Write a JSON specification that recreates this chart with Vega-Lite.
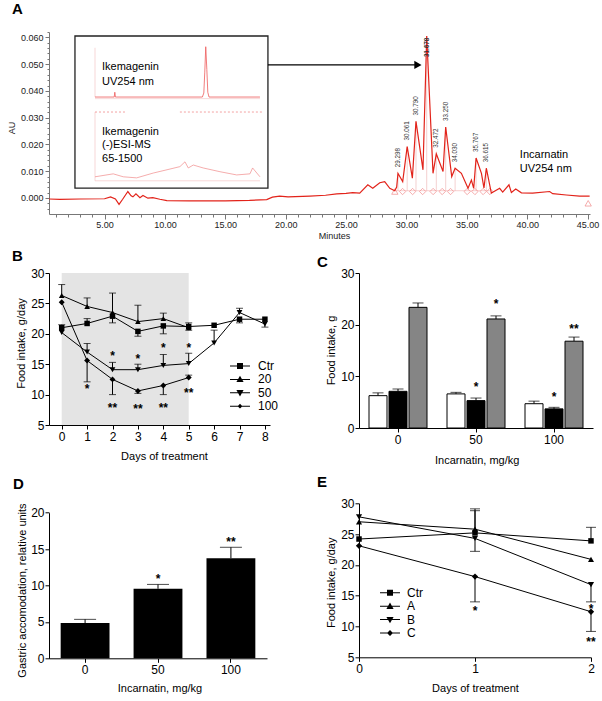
{
"$schema": "https://vega.github.io/schema/vega-lite/v6.json",
"autosize": {"type": "none"},
"padding": {"left": 49, "top": 32, "right": 553, "bottom": 669},
"background": "white",
"config": {
  "font": "Liberation Sans",
  "view": {"stroke": null},
  "axis": {"domainColor": "black", "tickColor": "black", "labelColor": "black", "titleColor": "black", "labelFontSize": 12, "titleFontSize": 11, "titleFontWeight": "normal", "grid": false, "tickSize": 4, "labelPadding": 2, "labelFlush": false, "labelOverlap": false, "labelBound": false, "titleAlign": "center", "titleBaseline": "middle", "domainWidth": 1, "tickWidth": 1},
  "title": {"fontSize": 15, "fontWeight": "bold", "anchor": "start", "frame": "group", "color": "black", "baseline": "alphabetic"},
  "legend": {"labelFontSize": 12, "labelColor": "black", "padding": 0}
},
"datasets": {
  "a_trace": [
    {"t":0.4,"au":-0.0004},{"t":1.3,"au":-0.0005},{"t":3.0,"au":-0.0004},{"t":5.0,"au":-0.0003},{"t":5.5,"au":0.0004},{"t":5.9,"au":-0.0004},{"t":6.2,"au":-0.0024},{"t":6.5,"au":-0.0005},{"t":6.93,"au":0.0024},{"t":7.2,"au":0.0008},{"t":7.35,"au":0.0004},{"t":7.6,"au":0.0015},{"t":7.93,"au":0.0001},{"t":8.18,"au":0.0009},{"t":8.59,"au":-0.0001},{"t":9.0,"au":0.0001},{"t":9.58,"au":-0.0005},{"t":10.16,"au":-0.001},{"t":12,"au":-0.0011},{"t":15,"au":-0.0011},{"t":17,"au":-0.0009},{"t":18.43,"au":-0.0006},{"t":18.9,"au":0.0003},{"t":19.5,"au":0.0007},{"t":20.2,"au":0.0004},{"t":22.0,"au":0.0007},{"t":23.3,"au":0.001},{"t":24.23,"au":0.0015},{"t":25.0,"au":0.0017},{"t":25.55,"au":0.002},{"t":26.13,"au":0.0018},{"t":26.8,"au":0.0049},{"t":27.21,"au":0.0036},{"t":27.79,"au":0.0057},{"t":28.2,"au":0.0061},{"t":28.62,"au":0.0036},{"t":29.03,"au":0.0027},{"t":29.19,"au":0.0041},{"t":29.298,"au":0.0092},{"t":29.69,"au":0.0061},{"t":30.061,"au":0.0192},{"t":30.49,"au":0.0074},{"t":30.79,"au":0.0286},{"t":31.37,"au":0.0105},{"t":31.678,"au":0.0605},{"t":32.2,"au":0.0092},{"t":32.472,"au":0.0165},{"t":33.03,"au":0.0099},{"t":33.25,"au":0.0265},{"t":33.75,"au":0.008},{"t":34.03,"au":0.0111},{"t":34.55,"au":0.0092},{"t":35.1,"au":0.0036},{"t":35.38,"au":0.0067},{"t":35.57,"au":0.0036},{"t":35.767,"au":0.0149},{"t":36.21,"au":0.0092},{"t":36.42,"au":0.0037},{"t":36.615,"au":0.0111},{"t":37.03,"au":0.0018},{"t":37.72,"au":0.0036},{"t":37.97,"au":0.0022},{"t":38.49,"au":0.0049},{"t":38.69,"au":0.002},{"t":39.05,"au":0.0033},{"t":39.52,"au":0.0019},{"t":40.45,"au":0.0018},{"t":41.86,"au":0.0024},{"t":42.11,"au":0.0016},{"t":43.24,"au":0.0011},{"t":44.34,"au":0.0007},{"t":45.17,"au":0.0007}
  ],
  "a_uv": [
    {"t":4.21,"au":0.0377},{"t":5.8,"au":0.0377},{"t":5.85,"au":0.0395},{"t":5.9,"au":0.0377},{"t":13.1,"au":0.0377},{"t":13.22,"au":0.0392},{"t":13.3,"au":0.047},{"t":13.38,"au":0.0565},{"t":13.47,"au":0.048},{"t":13.55,"au":0.0395},{"t":13.65,"au":0.0377},{"t":17.87,"au":0.0377}
  ],
  "a_ms": [
    {"t":4.21,"au":0.0079},{"t":5.72,"au":0.009},{"t":6.55,"au":0.0079},{"t":7.66,"au":0.0075},{"t":9.03,"au":0.0093},{"t":10.42,"au":0.0108},{"t":11.24,"au":0.0117},{"t":11.66,"au":0.0135},{"t":11.93,"au":0.0112},{"t":12.35,"au":0.0123},{"t":13.17,"au":0.0112},{"t":14.56,"au":0.0098},{"t":15.94,"au":0.0086},{"t":17.04,"au":0.009},{"t":17.26,"au":0.0112},{"t":17.87,"au":0.0079}
  ],
  "a_box": [{"t":2.55,"t2":18.53,"au":0.0037,"au2":0.0605}],
  "a_axes": [
    {"t":4.21,"t2":4.21,"au":0.0377,"au2":0.0561},
    {"t":4.21,"t2":17.87,"au":0.0371,"au2":0.0371},
    {"t":4.21,"t2":4.21,"au":0.0064,"au2":0.0321},
    {"t":4.21,"t2":17.87,"au":0.0064,"au2":0.0064}
  ],
  "a_dash": [{"t":4.21,"t2":6.69,"au":0.0321,"au2":0.0321},{"t":11.24,"t2":18.03,"au":0.0321,"au2":0.0321}],
  "a_peaks": [
    {"t":29.298,"au":0.0092,"label":"29.298"},{"t":30.061,"au":0.0192,"label":"30.061"},{"t":30.79,"au":0.0286,"label":"30.790"},{"t":31.678,"au":0.0605,"label":"31.678"},{"t":32.472,"au":0.0165,"label":"32.472"},{"t":33.25,"au":0.0265,"label":"33.250"},{"t":34.03,"au":0.0111,"label":"34.030"},{"t":35.767,"au":0.0149,"label":"35.767"},{"t":36.615,"au":0.0111,"label":"36.615"}
  ],
  "a_base": [{"t":29.04,"t2":36.91,"au":0.0027,"au2":0.0027}],
  "a_marks": [
    {"t":29.04,"au":0.0024,"kind":"t"},{"t":29.68,"au":0.0024,"kind":"d"},{"t":30.51,"au":0.0024,"kind":"d"},{"t":31.34,"au":0.0024,"kind":"d"},{"t":32.21,"au":0.0024,"kind":"d"},{"t":32.96,"au":0.0024,"kind":"d"},{"t":33.65,"au":0.0024,"kind":"d"},{"t":35.03,"au":0.0024,"kind":"d"},{"t":35.67,"au":0.0024,"kind":"d"},{"t":36.35,"au":0.0024,"kind":"d"},{"t":36.91,"au":0.0024,"kind":"d"},{"t":45.05,"au":-0.002,"kind":"t"}
  ],
  "a_arrow": [{"t":18.53,"t2":30.7,"au":0.0497,"au2":0.0497}],
  "a_head": [{"t":30.95,"au":0.0497}],
  "a_text": [
    {"t":4.79,"au":0.0489,"txt":"Ikemagenin"},{"t":4.79,"au":0.0433,"txt":"UV254 nm"},{"t":4.79,"au":0.0246,"txt":"Ikemagenin"},{"t":4.79,"au":0.0196,"txt":"(-)ESI-MS"},{"t":4.79,"au":0.0147,"txt":"65-1500"},{"t":39.39,"au":0.0161,"txt":"Incarnatin"},{"t":39.39,"au":0.011,"txt":"UV254 nm"}
  ],
  "b": [
    {"day":0,"series":"Ctr","v":21.0,"e":21.5},{"day":1,"series":"Ctr","v":21.7,"e":22.5},{"day":2,"series":"Ctr","v":22.9,"e":21.8},{"day":3,"series":"Ctr","v":20.4,"e":19.6},{"day":4,"series":"Ctr","v":21.3,"e":20.0},{"day":5,"series":"Ctr","v":21.2,"e":20.6},{"day":6,"series":"Ctr","v":21.4},{"day":7,"series":"Ctr","v":22.4,"e":21.8},{"day":8,"series":"Ctr","v":22.4},
    {"day":0,"series":"20","v":26.3,"e":28.1},{"day":1,"series":"20","v":24.5,"e":25.9},{"day":2,"series":"20","v":23.5,"e":26.7},{"day":3,"series":"20","v":22.0,"e":24.7},{"day":4,"series":"20","v":22.5,"e":23.4},{"day":5,"series":"20","v":21.0,"e":21.8},
    {"day":0,"series":"50","v":20.2},{"day":1,"series":"50","v":17.0,"e":18.4},{"day":2,"series":"50","v":14.1,"e":15.3},{"day":3,"series":"50","v":14.1,"e":15.0},{"day":4,"series":"50","v":14.8,"e":16.6},{"day":5,"series":"50","v":15.1,"e":16.8},{"day":6,"series":"50","v":18.5,"e":20.6},{"day":7,"series":"50","v":23.5,"e":24.2},{"day":8,"series":"50","v":21.6,"e":21.1},
    {"day":0,"series":"100","v":25.2},{"day":1,"series":"100","v":15.6,"e":12.1},{"day":2,"series":"100","v":12.5,"e":10.0},{"day":3,"series":"100","v":10.6,"e":10.2},{"day":4,"series":"100","v":11.5,"e":10.0},{"day":5,"series":"100","v":12.8,"e":13.2}
  ],
  "b_shade": [{"day":0,"day2":5,"v":5,"v2":30}],
  "b_stars": [
    {"day":1,"v":11.3,"s":"*"},{"day":2,"v":16.7,"s":"*"},{"day":2,"v":8.2,"s":"**"},{"day":3,"v":16.3,"s":"*"},{"day":3,"v":8.0,"s":"**"},{"day":4,"v":18.0,"s":"*"},{"day":4,"v":8.2,"s":"**"},{"day":5,"v":18.1,"s":"*"},{"day":5,"v":10.7,"s":"**"}
  ],
  "c": [
    {"dose":0,"grp":"0-3","v":6.26,"e":6.8},{"dose":0,"grp":"3-6","v":7.1,"e":7.55},{"dose":0,"grp":"0-24","v":23.35,"e":24.2},
    {"dose":50,"grp":"0-3","v":6.6,"e":6.9},{"dose":50,"grp":"3-6","v":5.3,"e":5.8},{"dose":50,"grp":"0-24","v":21.1,"e":21.7},
    {"dose":100,"grp":"0-3","v":4.7,"e":5.2},{"dose":100,"grp":"3-6","v":3.7,"e":4.0},{"dose":100,"grp":"0-24","v":16.8,"e":17.6}
  ],
  "c_stars": [
    {"dose":50,"grp":"3-6","v":8.4,"s":"*"},{"dose":50,"grp":"0-24","v":24.5,"s":"*"},{"dose":100,"grp":"3-6","v":6.45,"s":"*"},{"dose":100,"grp":"0-24","v":19.7,"s":"**"}
  ],
  "d": [{"dose":0,"v":4.85,"e":5.35},{"dose":50,"v":9.55,"e":10.15},{"dose":100,"v":13.75,"e":15.25}],
  "d_stars": [{"dose":50,"v":11.2,"s":"*"},{"dose":100,"v":16.3,"s":"**"}],
  "e": [
    {"day":0,"series":"Ctr","v":24.2},{"day":1,"series":"Ctr","v":25.2,"e":28.8},{"day":2,"series":"Ctr","v":23.9,"e":26.1},
    {"day":0,"series":"A","v":27.0},{"day":1,"series":"A","v":25.8,"e":29.1},{"day":2,"series":"A","v":20.9},
    {"day":0,"series":"B","v":27.8},{"day":1,"series":"B","v":24.3,"e":22.2},{"day":2,"series":"B","v":16.8,"e":14.0},
    {"day":0,"series":"C","v":23.1},{"day":1,"series":"C","v":18.1,"e":14.0},{"day":2,"series":"C","v":12.4,"e":9.2}
  ],
  "e_stars": [{"day":1,"v":13.0,"s":"*"},{"day":2,"v":13.3,"s":"*"},{"day":2,"v":7.9,"s":"**"}]
},
"spacing": 59,
"bounds": "flush",
"vconcat": [
  {
    "width": 541, "height": 182,
    "title": {"text": "A", "dx": -37, "offset": 11},
    "encoding": {
      "x": {"field": "t", "type": "quantitative", "scale": {"domain": [0.4, 45.2], "nice": false, "zero": false},
        "axis": {"title": "Minutes", "titleX": 285, "titleY": 21.5, "titleFontSize": 9, "labelFontSize": 9, "domainColor": "#777", "tickColor": "#777", "labelColor": "#222", "titleColor": "#222", "labelPadding": 1.5,
          "values": [1,2,3,4,5,6,7,8,9,10,11,12,13,14,15,16,17,18,19,20,21,22,23,24,25,26,27,28,29,30,31,32,33,34,35,36,37,38,39,40,41,42,43,44,45],
          "labelExpr": "datum.value % 5 == 0 ? format(datum.value, '.2f') : ''",
          "tickSize": {"condition": {"test": "datum.value % 5 == 0", "value": 5}, "value": 3}}},
      "y": {"field": "au", "type": "quantitative", "scale": {"domain": [-0.006, 0.062], "nice": false, "zero": false},
        "axis": {"title": "AU", "titleX": -37.3, "titleY": 95.5, "titleFontSize": 9, "labelFontSize": 9, "domainColor": "#777", "tickColor": "#777", "labelColor": "#222", "titleColor": "#222", "labelPadding": 2,
          "values": [-0.004,-0.002,0,0.002,0.004,0.006,0.008,0.01,0.012,0.014,0.016,0.018,0.02,0.022,0.024,0.026,0.028,0.03,0.032,0.034,0.036,0.038,0.04,0.042,0.044,0.046,0.048,0.05,0.052,0.054,0.056,0.058,0.06,0.062],
          "labelExpr": "abs(round(datum.value*1000)) % 10 == 0 ? format(datum.value, '.3f') : ''",
          "tickSize": {"condition": {"test": "abs(round(datum.value*1000)) % 10 == 0", "value": 4}, "value": 2}}}
    },
    "layer": [
      {"data": {"name": "a_box"}, "mark": {"type": "rect", "fill": "white", "stroke": "#222", "strokeWidth": 1.3}, "encoding": {"x2": {"field": "t2"}, "y2": {"field": "au2"}}},
      {"data": {"name": "a_axes"}, "mark": {"type": "rule", "color": "#f2bcbc", "strokeWidth": 0.6}, "encoding": {"x2": {"field": "t2"}, "y2": {"field": "au2"}}},
      {"data": {"name": "a_dash"}, "mark": {"type": "rule", "color": "#f08a8a", "strokeWidth": 0.8, "strokeDash": [2, 2]}, "encoding": {"x2": {"field": "t2"}, "y2": {"field": "au2"}}},
      {"data": {"name": "a_uv"}, "mark": {"type": "line", "color": "#ee5a5a", "strokeWidth": 0.8}},
      {"data": {"name": "a_ms"}, "mark": {"type": "line", "color": "#f08a8a", "strokeWidth": 0.7}},
      {"data": {"name": "a_base"}, "mark": {"type": "rule", "color": "#f4b0b0", "strokeWidth": 0.6}, "encoding": {"x2": {"field": "t2"}, "y2": {"field": "au2"}}},
      {"data": {"name": "a_peaks"}, "mark": {"type": "rule", "color": "#e8a0a0", "strokeWidth": 0.5}, "encoding": {"y2": {"datum": 0.0027}}},
      {"data": {"name": "a_marks"}, "mark": {"type": "point", "filled": false, "color": "#f08a8a", "strokeWidth": 0.7, "size": 40, "opacity": 1},
        "encoding": {"shape": {"field": "kind", "type": "nominal", "scale": {"domain": ["d", "t"], "range": ["diamond", "triangle-up"]}, "legend": null}}},
      {"data": {"name": "a_trace"}, "mark": {"type": "line", "color": "#e2231a", "strokeWidth": 1.2}},
      {"data": {"name": "a_peaks"}, "transform": [{"filter": "datum.t != 31.678"}], "mark": {"type": "text", "angle": 270, "align": "left", "baseline": "middle", "dx": 6, "fontSize": 6.3, "color": "#333"}, "encoding": {"text": {"field": "label"}}},
      {"data": {"name": "a_peaks"}, "transform": [{"filter": "datum.t == 31.678"}], "mark": {"type": "text", "angle": 270, "align": "left", "baseline": "middle", "dx": -21, "fontSize": 6.3, "fontWeight": "bold", "color": "#333"}, "encoding": {"text": {"field": "label"}}},
      {"data": {"name": "a_arrow"}, "mark": {"type": "rule", "color": "black", "strokeWidth": 1.2}, "encoding": {"x2": {"field": "t2"}, "y2": {"field": "au2"}}},
      {"data": {"name": "a_head"}, "mark": {"type": "point", "shape": "triangle-right", "filled": true, "color": "black", "size": 70, "opacity": 1}},
      {"data": {"name": "a_text"}, "mark": {"type": "text", "align": "left", "baseline": "middle", "fontSize": 11, "color": "black"}, "encoding": {"text": {"field": "txt"}}}
    ]
  },
  {
    "columns": 2,
    "spacing": {"row": 75.3, "column": 89},
    "bounds": "flush",
    "concat": [
      {
        "width": 221, "height": 152,
        "title": {"text": "B", "dx": -37, "offset": 3.5},
        "resolve": {"scale": {"shape": "independent"}},
        "encoding": {
          "x": {"field": "day", "type": "quantitative", "scale": {"domain": [-0.5, 8.2], "nice": false, "zero": false},
            "axis": {"values": [0,1,2,3,4,5,6,7,8], "format": "d", "title": "Days of treatment", "titleX": 115, "titleY": 31.7}},
          "y": {"field": "v", "type": "quantitative", "scale": {"domain": [5, 30], "nice": false, "zero": false},
            "axis": {"values": [5,10,15,20,25,30], "title": "Food intake, g/day", "titleX": -27.3, "titleY": 70, "labelPadding": 1}}
        },
        "layer": [
          {"data": {"name": "b_shade"}, "mark": {"type": "rect", "fill": "#e4e4e4"}, "encoding": {"x2": {"field": "day2"}, "y2": {"field": "v2"}}},
          {"data": {"name": "b"}, "transform": [{"filter": "isValid(datum.e)"}], "mark": {"type": "rule", "color": "black", "strokeWidth": 1}, "encoding": {"y2": {"field": "e"}}},
          {"data": {"name": "b"}, "transform": [{"filter": "isValid(datum.e)"}], "mark": {"type": "tick", "orient": "horizontal", "color": "black", "size": 7, "thickness": 1},
            "encoding": {"y": {"field": "e", "type": "quantitative", "scale": {"domain": [5, 30], "nice": false, "zero": false}, "axis": {"values": [5,10,15,20,25,30], "title": "Food intake, g/day", "titleX": -27.3, "titleY": 70, "labelPadding": 1}}}},
          {"data": {"name": "b"}, "mark": {"type": "line", "color": "black", "strokeWidth": 1}, "encoding": {"detail": {"field": "series"}}},
          {"data": {"name": "b"}, "mark": {"type": "point", "filled": true, "color": "black", "opacity": 1},
            "encoding": {
              "shape": {"field": "series", "type": "nominal", "scale": {"domain": ["Ctr","20","50","100"], "range": ["square","triangle-up","triangle-down","diamond"]}, "legend": null},
              "size": {"field": "series", "type": "nominal", "scale": {"domain": ["Ctr","20","50","100"], "range": [30,40,40,16]}, "legend": null}}},
          {"data": {"name": "b_stars"}, "mark": {"type": "text", "fontSize": 12, "fontWeight": "bold", "baseline": "alphabetic", "align": "center", "dy": 6.5, "color": "black"}, "encoding": {"text": {"field": "s"}}},
          {"data": {"name": "b"}, "transform": [{"filter": "datum.day < -10"}], "mark": {"type": "point", "filled": true, "color": "black", "size": 36, "opacity": 1},
            "encoding": {"shape": {"field": "series", "type": "nominal",
              "scale": {"domain": ["Ctr","20","50","100"], "range": [
                "M-3.33,-0.17H3.33V0.17H-3.33ZM-1,-1H1V1H-1Z",
                "M-3.33,-0.17H3.33V0.17H-3.33ZM0,-1.2L1.2,0.9H-1.2Z",
                "M-3.33,-0.17H3.33V0.17H-3.33ZM0,1.2L-1.2,-0.9H1.2Z",
                "M-3.33,-0.17H3.33V0.17H-3.33ZM0,-0.8L0.8,0L0,0.8L-0.8,0Z"]},
              "legend": {"title": null, "orient": "none", "legendX": 185, "legendY": 87, "symbolSize": 36, "labelOffset": 12, "rowPadding": 1.4, "labelFontSize": 12, "symbolFillColor": "black", "symbolStrokeWidth": 0, "symbolOpacity": 1}}}}
        ]
      },
      {
        "width": 234, "height": 155,
        "title": {"text": "C", "dx": -42, "offset": -3},
        "encoding": {
          "x": {"field": "dose", "type": "ordinal", "scale": {"paddingInner": 0, "paddingOuter": 0},
            "axis": {"title": "Incarnatin, mg/kg", "titleX": 117.7, "titleY": 32.7, "labelAngle": 0, "bandPosition": 0.5}},
          "xOffset": {"field": "grp", "type": "nominal", "scale": {"domain": ["0-3","3-6","0-24"], "paddingInner": 0.1, "paddingOuter": 0.5}},
          "y": {"field": "v", "type": "quantitative", "scale": {"domain": [0, 30], "nice": false},
            "axis": {"values": [0,10,20,30], "title": "Food intake, g", "titleX": -27.3, "titleY": 77, "labelPadding": 1}}
        },
        "layer": [
          {"data": {"name": "c"}, "mark": {"type": "rule", "color": "black", "strokeWidth": 1}, "encoding": {"y2": {"field": "e"}}},
          {"data": {"name": "c"}, "mark": {"type": "tick", "orient": "horizontal", "color": "black", "size": 11, "thickness": 1},
            "encoding": {"y": {"field": "e", "type": "quantitative", "scale": {"domain": [0, 30], "nice": false}, "axis": {"values": [0,10,20,30], "title": "Food intake, g", "titleX": -27.3, "titleY": 77, "labelPadding": 1}}}},
          {"data": {"name": "c"}, "mark": {"type": "bar", "stroke": "black", "strokeWidth": 1},
            "encoding": {"fill": {"field": "grp", "type": "nominal", "scale": {"domain": ["0-3","3-6","0-24"], "range": ["white","black","#858585"]}, "legend": null}}},
          {"data": {"name": "c_stars"}, "mark": {"type": "text", "fontSize": 12, "fontWeight": "bold", "baseline": "alphabetic", "align": "center", "dy": 6.5, "color": "black"}, "encoding": {"text": {"field": "s"}}},
          {"data": {"name": "c"}, "transform": [{"filter": "datum.dose < -10"}], "mark": {"type": "point", "filled": true, "color": "black", "size": 81, "opacity": 1},
            "encoding": {"shape": {"field": "grp", "type": "nominal",
              "scale": {"domain": ["0-3","3-6","0-24"], "range": [
                "M-2,-1.1H2V1.1H-2ZM-1.78,-0.88V0.88H1.78V-0.88Z",
                "M-2,-1.1H2V1.1H-2Z",
                "M-2,-1.1H2V1.1H-2ZM-1.78,-0.88V0.88H1.78V-0.88ZM-1.78,-0.88h0.445v0.44h-0.445ZM-0.89,-0.88h0.445v0.44h-0.445ZM0,-0.88h0.445v0.44h-0.445ZM0.89,-0.88h0.445v0.44h-0.445ZM-1.335,-0.44h0.445v0.44h-0.445ZM-0.445,-0.44h0.445v0.44h-0.445ZM0.445,-0.44h0.445v0.44h-0.445ZM1.335,-0.44h0.445v0.44h-0.445ZM-1.78,0h0.445v0.44h-0.445ZM-0.89,0h0.445v0.44h-0.445ZM0,0h0.445v0.44h-0.445ZM0.89,0h0.445v0.44h-0.445ZM-1.335,0.44h0.445v0.44h-0.445ZM-0.445,0.44h0.445v0.44h-0.445ZM0.445,0.44h0.445v0.44h-0.445ZM1.335,0.44h0.445v0.44h-0.445Z"]},
              "legend": {"title": null, "orient": "none", "legendX": 177.3, "legendY": -11.2, "symbolSize": 81, "labelOffset": 11.4, "rowPadding": 2, "labelFontSize": 12, "symbolFillColor": "black", "symbolStrokeWidth": 0, "symbolOpacity": 1}}}}
        ]
      },
      {
        "width": 218, "height": 155,
        "title": {"text": "D", "dx": -36, "offset": 11.3},
        "encoding": {
          "x": {"field": "dose", "type": "ordinal", "scale": {"paddingInner": 0.33, "paddingOuter": 0.16},
            "axis": {"title": "Incarnatin, mg/kg", "titleX": 110.5, "titleY": 30, "labelAngle": 0, "bandPosition": 0.5}},
          "y": {"field": "v", "type": "quantitative", "scale": {"domain": [0, 20], "nice": false, "range": [155, 9.4]},
            "axis": {"values": [0,5,10,15,20], "title": "Gastric accomodation, relative units", "titleX": -26.5, "titleY": 86.7, "labelPadding": 1}}
        },
        "layer": [
          {"data": {"name": "d"}, "mark": {"type": "rule", "color": "black", "strokeWidth": 1}, "encoding": {"y2": {"field": "e"}}},
          {"data": {"name": "d"}, "mark": {"type": "tick", "orient": "horizontal", "color": "black", "size": 22, "thickness": 1},
            "encoding": {"y": {"field": "e", "type": "quantitative", "scale": {"domain": [0, 20], "nice": false, "range": [155, 9.4]}, "axis": {"values": [0,5,10,15,20], "title": "Gastric accomodation, relative units", "titleX": -26.5, "titleY": 86.7, "labelPadding": 1}}}},
          {"data": {"name": "d"}, "mark": {"type": "bar", "color": "black"}},
          {"data": {"name": "d_stars"}, "mark": {"type": "text", "fontSize": 12, "fontWeight": "bold", "baseline": "alphabetic", "align": "center", "dy": 6.5, "color": "black"}, "encoding": {"text": {"field": "s"}}}
        ]
      },
      {
        "width": 232, "height": 154,
        "title": {"text": "E", "dx": -42, "offset": 7.3},
        "resolve": {"scale": {"shape": "independent"}},
        "encoding": {
          "x": {"field": "day", "type": "quantitative", "scale": {"domain": [-0.0001, 2.0001], "nice": false, "zero": false},
            "axis": {"tickCount": 3, "tickMinStep": 1, "format": "d", "labelOverlap": false, "title": "Days of treatment", "titleX": 116, "titleY": 31.3}},
          "y": {"field": "v", "type": "quantitative", "scale": {"domain": [5, 30], "nice": false, "zero": false},
            "axis": {"values": [5,10,15,20,25,30], "title": "Food intake, g/day", "titleX": -28, "titleY": 79, "labelPadding": 1}}
        },
        "layer": [
          {"data": {"name": "e"}, "transform": [{"filter": "isValid(datum.e)"}], "mark": {"type": "rule", "color": "black", "strokeWidth": 1}, "encoding": {"y2": {"field": "e"}}},
          {"data": {"name": "e"}, "transform": [{"filter": "isValid(datum.e)"}], "mark": {"type": "tick", "orient": "horizontal", "color": "black", "size": 10, "thickness": 1},
            "encoding": {"y": {"field": "e", "type": "quantitative", "scale": {"domain": [5, 30], "nice": false, "zero": false}, "axis": {"values": [5,10,15,20,25,30], "title": "Food intake, g/day", "titleX": -28, "titleY": 79, "labelPadding": 1}}}},
          {"data": {"name": "e"}, "mark": {"type": "line", "color": "black", "strokeWidth": 1}, "encoding": {"detail": {"field": "series"}}},
          {"data": {"name": "e"}, "mark": {"type": "point", "filled": true, "color": "black", "opacity": 1},
            "encoding": {
              "shape": {"field": "series", "type": "nominal", "scale": {"domain": ["Ctr","A","B","C"], "range": ["square","triangle-up","triangle-down","diamond"]}, "legend": null},
              "size": {"field": "series", "type": "nominal", "scale": {"domain": ["Ctr","A","B","C"], "range": [34,45,45,25]}, "legend": null}}},
          {"data": {"name": "e_stars"}, "mark": {"type": "text", "fontSize": 12, "fontWeight": "bold", "baseline": "alphabetic", "align": "center", "dy": 6.5, "color": "black"}, "encoding": {"text": {"field": "s"}}},
          {"data": {"name": "e"}, "transform": [{"filter": "datum.day < -10"}], "mark": {"type": "point", "filled": true, "color": "black", "size": 36, "opacity": 1},
            "encoding": {"shape": {"field": "series", "type": "nominal",
              "scale": {"domain": ["Ctr","A","B","C"], "range": [
                "M-3.33,-0.17H3.33V0.17H-3.33ZM-1,-1H1V1H-1Z",
                "M-3.33,-0.17H3.33V0.17H-3.33ZM0,-1.2L1.2,0.9H-1.2Z",
                "M-3.33,-0.17H3.33V0.17H-3.33ZM0,1.2L-1.2,-0.9H1.2Z",
                "M-3.33,-0.17H3.33V0.17H-3.33ZM0,-1L1,0L0,1L-1,0Z"]},
              "legend": {"title": null, "orient": "none", "legendX": 25, "legendY": 83.5, "symbolSize": 36, "labelOffset": 11, "rowPadding": 1.4, "labelFontSize": 12, "symbolFillColor": "black", "symbolStrokeWidth": 0, "symbolOpacity": 1}}}}
        ]
      }
    ]
  }
]
}
